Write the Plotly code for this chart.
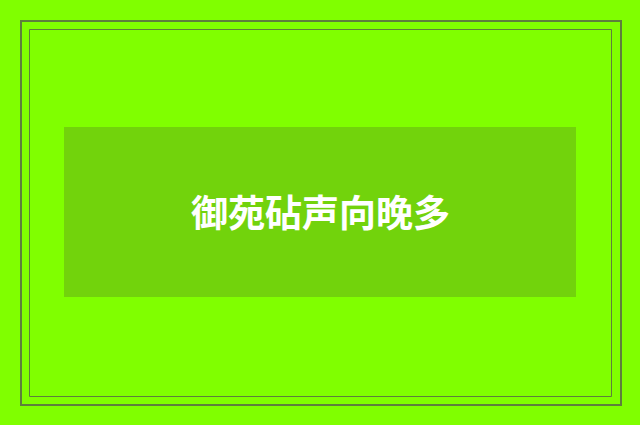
import plotly.graph_objects as go

# Texto del rótulo
titulo = "御苑砧声向晚多"

W, H = 640, 425
fondo = "#80FF00"
caja = "#72D30C"
borde = "#5E7F3C"

fig = go.Figure()

# marco doble
fig.add_shape(type="rect", x0=21, y0=21, x1=621, y1=405,
              line=dict(color=borde, width=2), fillcolor="rgba(0,0,0,0)")
fig.add_shape(type="rect", x0=29.5, y0=29.5, x1=611.5, y1=396.5,
              line=dict(color=borde, width=1), fillcolor="rgba(0,0,0,0)")

# caja central
fig.add_shape(type="rect", x0=64, y0=127, x1=576, y1=297,
              line=dict(width=0), fillcolor=caja)

fig.add_annotation(x=320, y=211, text="<b>" + titulo + "</b>", showarrow=False,
                   font=dict(family="Noto Sans CJK SC", size=37, color="white"),
                   xanchor="center", yanchor="middle")

fig.update_layout(
    width=W, height=H,
    margin=dict(l=0, r=0, t=0, b=0),
    paper_bgcolor=fondo, plot_bgcolor=fondo,
    xaxis=dict(range=[0, W], visible=False, fixedrange=True),
    yaxis=dict(range=[H, 0], visible=False, fixedrange=True),
    showlegend=False,
)

# quitar el margen del body para que el lienzo empiece en (0,0)
fig.write_html("out.html", config={"displayModeBar": False},
               post_script="document.body.style.margin='0';document.body.style.overflow='hidden';")
